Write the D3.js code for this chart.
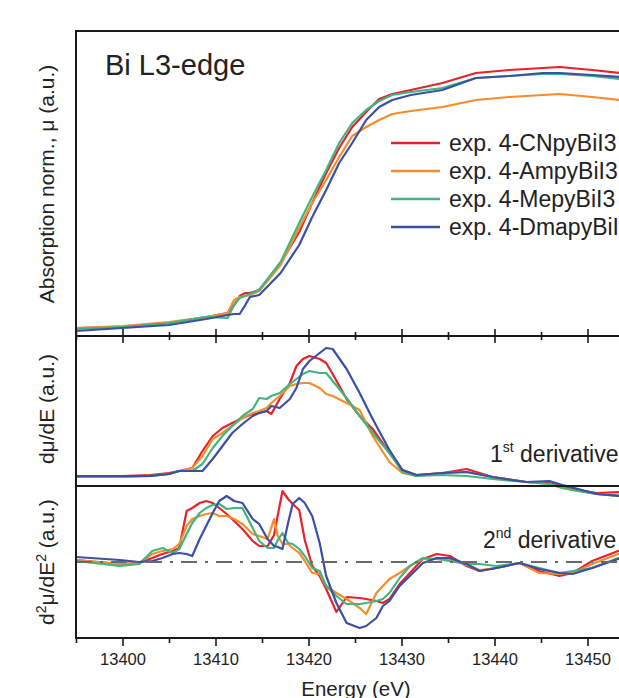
<!DOCTYPE html>
<html>
<head>
<meta charset="utf-8">
<script src="https://cdnjs.cloudflare.com/ajax/libs/d3/7.8.5/d3.min.js"></script>
<style>
body { margin: 0; background: #fff; overflow: hidden; }
text { font-family: "Liberation Sans", Arial, sans-serif; fill: #222; }
</style>
</head>
<body>
<svg id="chart" width="619" height="698"></svg>
<script>
var seriesNames = ['exp. 4-CNpyBiI3', 'exp. 4-AmpyBiI3', 'exp. 4-MepyBiI3', 'exp. 4-DmapyBiI3'];
var seriesColors = ['#e8212b', '#f68c2c', '#3fb67f', '#3b4fa5'];
var majorTicks = [13400, 13410, 13420, 13430, 13440, 13450];
var minorTicks = [13395, 13405, 13415, 13425, 13435, 13445, 13455];

// normalized absorption
var eAbs = [13395, 13400, 13405, 13409, 13411.3, 13412, 13412.6, 13413.2, 13413.7, 13414.7, 13417, 13419, 13420.4, 13421.9, 13423.3, 13424.7, 13426.2, 13427.6, 13429, 13431, 13434.4, 13438, 13441.6, 13445.2, 13447, 13450.5, 13453.5, 13455];
var absCN = [0.032, 0.036, 0.052, 0.076, 0.092, 0.124, 0.160, 0.172, 0.172, 0.184, 0.292, 0.416, 0.532, 0.652, 0.752, 0.836, 0.896, 0.948, 0.968, 0.984, 1.012, 1.052, 1.064, 1.072, 1.076, 1.064, 1.052, 1.048];
var absAm = [0.032, 0.040, 0.056, 0.076, 0.092, 0.144, 0.156, 0.160, 0.164, 0.180, 0.284, 0.432, 0.532, 0.624, 0.716, 0.800, 0.836, 0.864, 0.888, 0.900, 0.916, 0.944, 0.956, 0.964, 0.968, 0.956, 0.944, 0.940];
var absMe = [0.028, 0.036, 0.052, 0.076, 0.072, 0.124, 0.152, 0.160, 0.168, 0.184, 0.296, 0.452, 0.556, 0.664, 0.772, 0.852, 0.904, 0.940, 0.964, 0.976, 0.992, 1.032, 1.040, 1.048, 1.048, 1.040, 1.028, 1.024];
var absDm = [0.020, 0.032, 0.044, 0.068, 0.084, 0.088, 0.088, 0.124, 0.156, 0.164, 0.252, 0.364, 0.476, 0.584, 0.692, 0.772, 0.864, 0.916, 0.944, 0.964, 0.984, 1.032, 1.040, 1.052, 1.052, 1.044, 1.036, 1.032];

// 1st derivative
var eD1 = [13395, 13400, 13403, 13405, 13406.1, 13407.5, 13408.6, 13409.7, 13410.75, 13411.8, 13412.9, 13414, 13414.7, 13415.5, 13416, 13416.9, 13418, 13418.7, 13419.4, 13420.1, 13421.2, 13421.9, 13422.6, 13424.1, 13425.5, 13426.9, 13428.7, 13430.1, 13431.6, 13434.4, 13437, 13439.8, 13443.4, 13445.9, 13447.3, 13449, 13451, 13453.5, 13455];
var d1CN = [0, 0, 0.01, 0.03, 0.05, 0.08, 0.25, 0.40, 0.48, 0.53, 0.58, 0.62, 0.63, 0.65, 0.62, 0.77, 0.93, 1.10, 1.17, 1.20, 1.17, 1.13, 1.02, 0.77, 0.60, 0.47, 0.23, 0.06, 0.01, 0.03, 0.07, -0.01, -0.06, -0.07, -0.11, -0.14, -0.17, -0.16, -0.15];
var d1Am = [-0.01, -0.01, 0, 0.02, 0.05, 0.08, 0.20, 0.37, 0.43, 0.50, 0.58, 0.63, 0.65, 0.68, 0.73, 0.80, 0.90, 0.92, 0.93, 0.93, 0.88, 0.82, 0.80, 0.73, 0.66, 0.40, 0.14, 0.03, 0, 0.03, 0.04, -0.01, -0.06, -0.08, -0.12, -0.15, -0.18, -0.20, -0.21];
var d1Me = [-0.01, -0.01, 0, 0.02, 0.05, 0.05, 0.12, 0.28, 0.40, 0.50, 0.60, 0.67, 0.78, 0.77, 0.80, 0.83, 0.92, 0.97, 1.02, 1.05, 1.03, 1.03, 0.95, 0.78, 0.60, 0.43, 0.23, 0.04, 0, 0.01, 0, -0.03, -0.06, -0.08, -0.12, -0.15, -0.18, -0.20, -0.21];
var d1Dm = [0, 0, 0, 0.02, 0.05, 0.05, 0.05, 0.17, 0.30, 0.43, 0.52, 0.60, 0.63, 0.65, 0.70, 0.68, 0.77, 0.88, 1.07, 1.15, 1.23, 1.28, 1.27, 1.07, 0.83, 0.57, 0.26, 0.06, 0.01, 0.03, 0.04, -0.01, -0.06, -0.05, -0.09, -0.13, -0.18, -0.20, -0.21];

// 2nd derivative
var eD2 = [13395, 13399.7, 13401.8, 13403.2, 13404.3, 13405.4, 13406.1, 13406.9, 13407.5, 13408.3, 13409, 13409.7, 13410.4, 13411.2, 13412, 13412.9, 13414, 13414.7, 13415.6, 13416.3, 13416.7, 13417.2, 13417.8, 13418.3, 13419, 13419.6, 13420.4, 13421.2, 13421.9, 13423, 13424.1, 13425.5, 13426.2, 13427.3, 13428, 13428.7, 13429.8, 13430.9, 13432.3, 13433.8, 13435.2, 13437, 13438.4, 13440.2, 13442.7, 13444.8, 13447, 13448.4, 13450.5, 13453.3, 13455];
var d2CN = [0.02, -0.02, -0.01, 0.04, 0.08, 0.11, 0.14, 0.51, 0.54, 0.59, 0.61, 0.59, 0.54, 0.48, 0.41, 0.33, 0.21, 0.16, 0.16, 0.27, 0.47, 0.71, 0.63, 0.58, 0.52, 0.22, -0.04, -0.14, -0.27, -0.50, -0.35, -0.36, -0.37, -0.39, -0.41, -0.37, -0.22, -0.11, 0.03, 0.08, 0.06, -0.04, -0.09, -0.06, -0.01, -0.09, -0.14, -0.11, 0.01, 0.11, 0.14];
var d2Am = [0.02, -0.02, -0.01, 0.08, 0.11, 0.13, 0.18, 0.36, 0.43, 0.46, 0.48, 0.49, 0.46, 0.46, 0.43, 0.38, 0.28, 0.26, 0.23, 0.43, 0.26, 0.18, 0.18, 0.14, 0.09, 0.01, -0.11, -0.12, -0.24, -0.31, -0.37, -0.46, -0.52, -0.31, -0.24, -0.17, -0.11, -0.04, 0.03, 0.03, 0.03, -0.03, -0.08, -0.06, -0.01, -0.11, -0.12, -0.11, -0.02, 0.08, 0.10];
var d2Me = [0.01, -0.04, -0.02, 0.11, 0.14, 0.09, 0.13, 0.28, 0.39, 0.49, 0.54, 0.57, 0.58, 0.53, 0.54, 0.54, 0.34, 0.21, 0.14, 0.14, 0.22, 0.29, 0.19, 0.18, 0.13, 0.06, -0.06, -0.09, -0.24, -0.34, -0.42, -0.42, -0.41, -0.39, -0.37, -0.31, -0.16, -0.04, 0.04, 0.03, 0.01, -0.02, -0.02, -0.04, -0.01, -0.06, -0.11, -0.09, -0.06, 0.04, 0.06];
var d2Dm = [0.05, 0.02, 0, 0.01, 0.04, 0.08, 0.09, 0.08, 0.06, 0.23, 0.36, 0.49, 0.61, 0.66, 0.61, 0.59, 0.43, 0.38, 0.23, 0.16, 0.15, 0.13, 0.39, 0.58, 0.64, 0.59, 0.46, 0.19, -0.14, -0.41, -0.61, -0.66, -0.64, -0.56, -0.44, -0.39, -0.24, -0.14, -0.01, 0.04, 0.04, -0.02, -0.09, -0.06, -0.01, -0.07, -0.11, -0.12, -0.06, 0.03, 0.05];

var svg = d3.select('#chart');

var x = d3.scaleLinear().domain([13395, 13455]).range([76, 634]),
	yAbs = d3.scaleLinear().domain([0, 1.22]).range([336, 31]),
	yD1 = d3.scaleLinear().domain([-0.1, 1.4]).range([486, 336]),
	yD2 = d3.scaleLinear().domain([-0.76, 0.76]).range([638, 486]);

var panels = [
	{e: eAbs, y: yAbs, series: [absCN, absAm, absMe, absDm]},
	{e: eD1, y: yD1, series: [d1CN, d1Am, d1Me, d1Dm]},
	{e: eD2, y: yD2, series: [d2CN, d2Am, d2Me, d2Dm]}
];

panels.forEach(function(p){
	var line = d3.line()
		.x(function(d, i){ return x(p.e[i]); })
		.y(function(d){ return p.y(d); });
	p.series.forEach(function(s, k){
		svg.append('path')
			.attr('d', line(s))
			.attr('fill', 'none')
			.attr('stroke', seriesColors[k])
			.attr('stroke-width', 2.2)
			.attr('stroke-linejoin', 'round');
	});
});

// zero line of 2nd derivative
svg.append('line')
	.attr('x1', x(13395)).attr('x2', x(13455))
	.attr('y1', yD2(0)).attr('y2', yD2(0))
	.attr('stroke', '#6a6a6a').attr('stroke-width', 2)
	.attr('stroke-dasharray', '16,8,3,8');

// frame
var frameColor = '#1a1a1a';
svg.append('line').attr('x1', x(13395)).attr('x2', x(13395)).attr('y1', yAbs.range()[1]).attr('y2', yD2.range()[0])
	.attr('stroke', frameColor).attr('stroke-width', 2);
[yAbs.range()[1], yAbs.range()[0], yD1.range()[0], yD2.range()[0]].forEach(function(yy){
	svg.append('line').attr('x1', x(13395) - 1).attr('x2', x(13455)).attr('y1', yy).attr('y2', yy)
		.attr('stroke', frameColor).attr('stroke-width', 2);
});

// ticks crossing the absorption / 1st derivative border
function crossTicks(values, size){
	var g = svg.append('g').attr('transform', 'translate(0,' + yAbs(0) + ')')
		.call(d3.axisBottom(x).tickValues(values).tickSize(size).tickFormat(''));
	g.select('.domain').remove();
	g.selectAll('line').attr('y1', -size).attr('stroke', frameColor).attr('stroke-width', 1.6);
}
crossTicks(majorTicks, 7);
crossTicks(minorTicks, 4);

// bottom axis
var bottom = svg.append('g').attr('transform', 'translate(0,' + yD2.range()[0] + ')')
	.call(d3.axisBottom(x).tickValues(majorTicks).tickSize(8).tickPadding(7).tickFormat(d3.format('d')));
bottom.select('.domain').remove();
bottom.selectAll('line').attr('stroke', frameColor).attr('stroke-width', 1.6);
bottom.selectAll('text').style('font-size', '16.5px').attr('fill', '#222')
	.style('font-family', '"Liberation Sans", Arial, sans-serif');
var bottomMinor = svg.append('g').attr('transform', 'translate(0,' + yD2.range()[0] + ')')
	.call(d3.axisBottom(x).tickValues(minorTicks).tickSize(5).tickFormat(''));
bottomMinor.select('.domain').remove();
bottomMinor.selectAll('line').attr('stroke', frameColor).attr('stroke-width', 1.6);

svg.append('text').attr('x', 356).attr('y', 696).attr('text-anchor', 'middle')
	.style('font-size', '20.5px').text('Energy (eV)');

// y titles
function yTitle(cy){
	return svg.append('text').attr('transform', 'translate(54,' + cy + ')rotate(-90)')
		.attr('text-anchor', 'middle').style('font-size', '21px');
}
yTitle(184).text('Absorption norm., \u03bc (a.u.)');
yTitle(409).text('d\u03bc/dE (a.u.)');
var t2 = yTitle(562);
t2.append('tspan').text('d');
t2.append('tspan').attr('dy', -8).style('font-size', '14px').text('2');
t2.append('tspan').attr('dy', 8).text('\u03bc/dE');
t2.append('tspan').attr('dy', -8).style('font-size', '14px').text('2');
t2.append('tspan').attr('dy', 8).text(' (a.u.)');

// annotations
svg.append('text').attr('x', 105).attr('y', 75).style('font-size', '29px').text('Bi L3-edge');

var a1 = svg.append('text').attr('x', 490).attr('y', 462).style('font-size', '23px');
a1.append('tspan').text('1');
a1.append('tspan').attr('dy', -10).style('font-size', '14px').text('st');
a1.append('tspan').attr('dy', 10).text(' derivative');

var a2 = svg.append('text').attr('x', 483).attr('y', 548).style('font-size', '23px');
a2.append('tspan').text('2');
a2.append('tspan').attr('dy', -10).style('font-size', '14px').text('nd');
a2.append('tspan').attr('dy', 10).text(' derivative');

// legend
var legend = svg.append('g');
seriesNames.forEach(function(name, i){
	var ly = 143 + i * 28;
	legend.append('line').attr('x1', 391).attr('x2', 440).attr('y1', ly).attr('y2', ly)
		.attr('stroke', seriesColors[i]).attr('stroke-width', 2.4);
	legend.append('text').attr('x', 449).attr('y', ly + 8).style('font-size', '23px').text(name);
});
</script>
</body>
</html>
